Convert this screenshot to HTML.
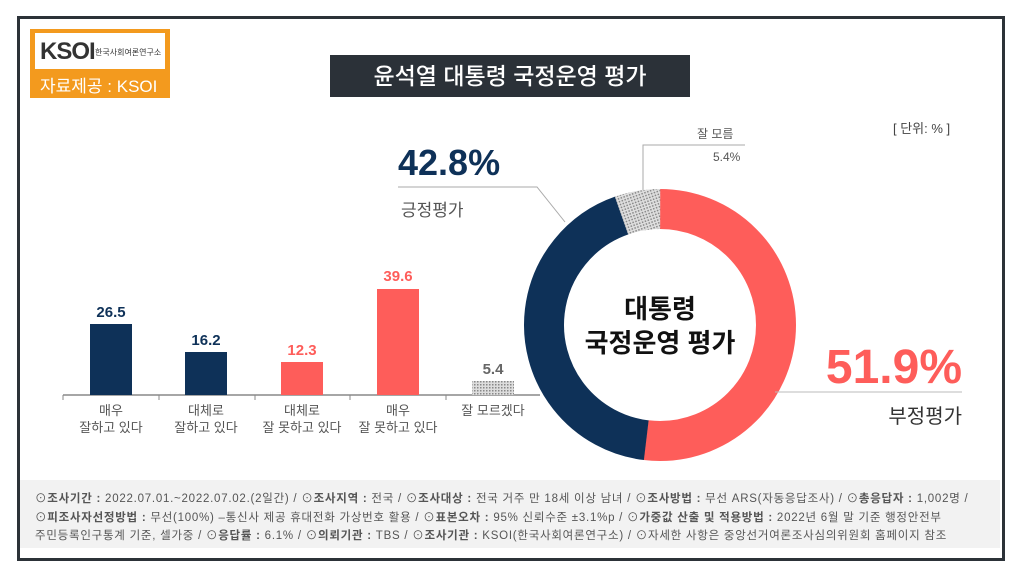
<!DOCTYPE html>
<html><head><meta charset="utf-8"><style>
body{margin:0;width:1024px;height:570px;background:#fff;position:relative;overflow:hidden;font-family:"Liberation Sans","Noto Sans CJK KR",sans-serif}
.a{position:absolute;white-space:nowrap}
</style></head><body>
<div class="a" style="left:17px;top:16px;width:982px;height:539px;border:3px solid #2c3238"></div>
<div class="a" style="left:30px;top:29px;width:140px;height:69px;background:#f39a1e"></div>
<div class="a" style="left:35px;top:33px;width:130px;height:36px;background:#fff"></div>
<div class="a" style="left:40px;top:38px;font-size:24px;font-weight:bold;color:#333;letter-spacing:-1px">KSOI</div>
<div class="a" style="left:95px;top:47px;font-size:8px;color:#333">한국사회여론연구소</div>
<div class="a" style="left:40px;top:72px;font-size:17px;color:#fff">자료제공 : KSOI</div>
<div class="a" style="left:330px;top:55px;width:360px;height:42px;background:#2b3138;color:#fff;font-size:23px;text-align:center;line-height:42px;font-weight:500">윤석열 대통령 국정운영 평가</div>
<div class="a" style="left:893px;top:118px;font-size:13px;color:#444">[ 단위: % ]</div>

<svg class="a" style="left:0;top:0" width="1024" height="570">
<defs><pattern id="p" width="3" height="3" patternUnits="userSpaceOnUse"><rect width="3" height="3" fill="#ddd"/><rect width="1.5" height="1.5" fill="#888"/></pattern></defs>
<line x1="63" y1="395" x2="540" y2="395" stroke="#888" stroke-width="1.5"/>
<g stroke="#888"><line x1="63" y1="395" x2="63" y2="400"/><line x1="159" y1="395" x2="159" y2="400"/><line x1="255" y1="395" x2="255" y2="400"/><line x1="350" y1="395" x2="350" y2="400"/><line x1="446" y1="395" x2="446" y2="400"/></g>
<rect x="90" y="324" width="42" height="71" fill="#0e3158"/>
<rect x="185" y="352" width="42" height="43" fill="#0e3158"/>
<rect x="281" y="362" width="42" height="33" fill="#fe5d5a"/>
<rect x="377" y="289" width="42" height="106" fill="#fe5d5a"/>
<rect x="472" y="381" width="42" height="14" fill="url(#p)"/>
<g font-size="15" font-weight="bold" text-anchor="middle" font-family="Liberation Sans,sans-serif">
<text x="111" y="317" fill="#0e3158">26.5</text><text x="206" y="345" fill="#0e3158">16.2</text>
<text x="302" y="355" fill="#fe5d5a">12.3</text><text x="398" y="281" fill="#fe5d5a">39.6</text>
<text x="493" y="374" fill="#666">5.4</text></g>
<g font-size="13" fill="#555" text-anchor="middle" font-family="Liberation Sans,Noto Sans CJK KR,sans-serif">
<text x="111" y="415">매우</text><text x="111" y="432">잘하고 있다</text>
<text x="206" y="415">대체로</text><text x="206" y="432">잘하고 있다</text>
<text x="302" y="415">대체로</text><text x="302" y="432">잘 못하고 있다</text>
<text x="398" y="415">매우</text><text x="398" y="432">잘 못하고 있다</text>
<text x="493" y="415">잘 모르겠다</text></g>
<g fill="none" stroke-width="40">
<circle cx="660" cy="325" r="116" stroke="#fe5d5a" stroke-dasharray="378.3 1000" transform="rotate(-90 660 325)"/>
<circle cx="660" cy="325" r="116" stroke="#0e3158" stroke-dasharray="312 1000" transform="rotate(96.8 660 325)"/>
<circle cx="660" cy="325" r="116" stroke="url(#p)" stroke-dasharray="39.5 1000" transform="rotate(250.6 660 325)"/>
</g>
<polyline points="398,187 537,187 565,222" fill="none" stroke="#aaa"/>
<polyline points="643,190 643,145 745,145" fill="none" stroke="#aaa"/>
<line x1="775" y1="392" x2="962" y2="392" stroke="#bbb"/>
</svg>
<div class="a" style="left:560px;top:292px;width:200px;text-align:center;font-size:26px;font-weight:bold;color:#111;line-height:34px">대통령<br>국정운영 평가</div>
<div class="a" style="left:398px;top:142px;font-size:36px;font-weight:bold;color:#0e3158">42.8%</div>
<div class="a" style="left:401px;top:196px;font-size:17px;color:#555">긍정평가</div>
<div class="a" style="left:697px;top:125px;font-size:12px;color:#555">잘 모름</div>
<div class="a" style="left:713px;top:150px;font-size:12px;color:#555">5.4%</div>
<div class="a" style="right:62px;top:340px;font-size:48px;font-weight:bold;color:#fe5d5a">51.9%</div>
<div class="a" style="right:62px;top:400px;font-size:20px;color:#333">부정평가</div>
<div class="a" style="left:20px;top:480px;width:980px;height:68px;background:#f2f2f2"></div>
<div class="a" style="left:35px;top:490px;font-size:11.5px;color:#555;line-height:18.5px;letter-spacing:0.75px">
⊙<b>조사기간 :</b> 2022.07.01.~2022.07.02.(2일간) / ⊙<b>조사지역 :</b> 전국 / ⊙<b>조사대상 :</b> 전국 거주 만 18세 이상 남녀 / ⊙<b>조사방법 :</b> 무선 ARS(자동응답조사) / ⊙<b>총응답자 :</b> 1,002명 /<br>
⊙<b>피조사자선정방법 :</b> 무선(100%) –통신사 제공 휴대전화 가상번호 활용 / ⊙<b>표본오차 :</b> 95% 신뢰수준 ±3.1%p / ⊙<b>가중값 산출 및 적용방법 :</b> 2022년 6월 말 기준 행정안전부<br>
주민등록인구통계 기준, 셀가중 / ⊙<b>응답률 :</b> 6.1% / ⊙<b>의뢰기관 :</b> TBS / ⊙<b>조사기관 :</b> KSOI(한국사회여론연구소) / ⊙자세한 사항은 중앙선거여론조사심의위원회 홈페이지 참조</div>
</body></html>
